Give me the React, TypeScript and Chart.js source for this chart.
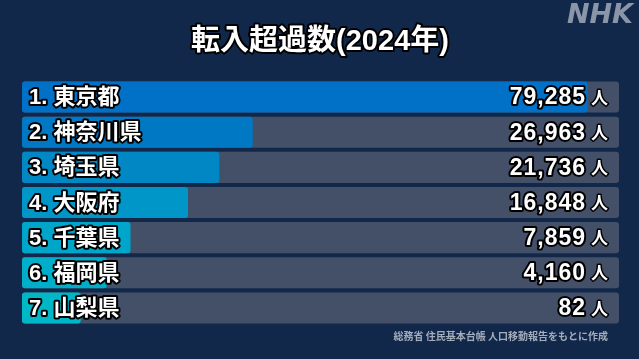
import React, { useEffect, useRef } from "react";
import { Chart, registerables } from "chart.js";

Chart.register(...registerables);

const titleText = "転入超過数(2024年)";
const sourceText = "総務省 住民基本台帳 人口移動報告をもとに作成";
const logoText = "NHK";
const unitText = "人";

const categories = ["1. 東京都", "2. 神奈川県", "3. 埼玉県", "4. 大阪府", "5. 千葉県", "6. 福岡県", "7. 山梨県"];
const values = [79285, 26963, 21736, 16848, 7859, 4160, 82];
const valueLabels = ["79,285", "26,963", "21,736", "16,848", "7,859", "4,160", "82"];
const barColors = ["#0071c6", "#0078c4", "#0087c4", "#0097c8", "#00a6c9", "#00aec9", "#00b7c8"];

const axisMin = -9100;
const axisMax = 84200;

const BG = "#12284a";
const TRACK = "#435068";
const FONT = '"Liberation Sans", "Noto Sans CJK JP", sans-serif';

function outlined(ctx: CanvasRenderingContext2D, text: string, x: number, y: number, lw: number) {
  ctx.lineJoin = "round";
  ctx.lineWidth = lw;
  ctx.strokeStyle = "#000000";
  ctx.strokeText(text, x, y);
  ctx.fillStyle = "#ffffff";
  ctx.fillText(text, x, y);
}

const decorPlugin = {
  id: "decor",
  beforeDraw(chart: any) {
    const ctx = chart.ctx as CanvasRenderingContext2D;
    ctx.save();
    ctx.fillStyle = BG;
    ctx.fillRect(0, 0, chart.width, chart.height);
    ctx.restore();
  },
  afterDatasetsDraw(chart: any) {
    const ctx = chart.ctx as CanvasRenderingContext2D;
    const meta = chart.getDatasetMeta(0);
    ctx.save();
    ctx.textBaseline = "middle";
    meta.data.forEach((bar: any, i: number) => {
      const y = bar.y + 1;
      ctx.font = `bold 22px ${FONT}`;
      (ctx as any).letterSpacing = "0px";
      ctx.textAlign = "left";
      outlined(ctx, categories[i], 29, y, 4);
      ctx.font = `bold 23px ${FONT}`;
      (ctx as any).letterSpacing = "1px";
      ctx.textAlign = "right";
      outlined(ctx, valueLabels[i], 586, y, 4);
      (ctx as any).letterSpacing = "0px";
      ctx.font = `bold 17px ${FONT}`;
      ctx.textAlign = "left";
      outlined(ctx, unitText, 591, y + 1, 3);
    });
    // title
    ctx.font = `bold 29px ${FONT}`;
    ctx.textAlign = "center";
    outlined(ctx, titleText, 320, 42, 4);
    // logo
    ctx.font = `italic bold 27px "DejaVu Sans", sans-serif`;
    ctx.textAlign = "right";
    ctx.fillStyle = "#8a96a8";
    ctx.fillText(logoText, 633, 16);
    // source
    ctx.font = `bold 10px "Noto Sans CJK JP", sans-serif`;
    ctx.textAlign = "right";
    ctx.fillStyle = "#a3adbb";
    ctx.fillText(sourceText, 608, 336);
    ctx.restore();
  },
};

export default function App() {
  const ref = useRef<HTMLCanvasElement | null>(null);
  useEffect(() => {
    document.body.style.margin = "0";
    const canvas = ref.current;
    if (!canvas) return;
    const chart = new Chart(canvas, {
      type: "bar",
      data: {
        labels: categories,
        datasets: [
          {
            data: values.map((v) => [axisMin, v]) as any,
            backgroundColor: barColors,
            borderRadius: 3,
            borderSkipped: false,
            order: 0,
          },
          {
            data: values.map(() => [axisMin, axisMax]) as any,
            backgroundColor: TRACK,
            borderRadius: 3,
            borderSkipped: false,
            order: 1,
          },
        ],
      },
      options: {
        indexAxis: "y",
        responsive: false,
        animation: false,
        events: [],
        grouped: false,
        barPercentage: 0.885,
        categoryPercentage: 1,
        layout: { padding: { left: 22, right: 20, top: 79.5, bottom: 33.5 } },
        scales: {
          x: { display: false, min: axisMin, max: axisMax },
          y: { display: false },
        },
        plugins: {
          legend: { display: false },
          tooltip: { enabled: false },
        },
      } as any,
      plugins: [decorPlugin],
    });
    return () => chart.destroy();
  }, []);
  return (
    <div style={{ width: 639, height: 359 }}>
      <canvas ref={ref} width={639} height={359} style={{ display: "block" }} />
    </div>
  );
}
